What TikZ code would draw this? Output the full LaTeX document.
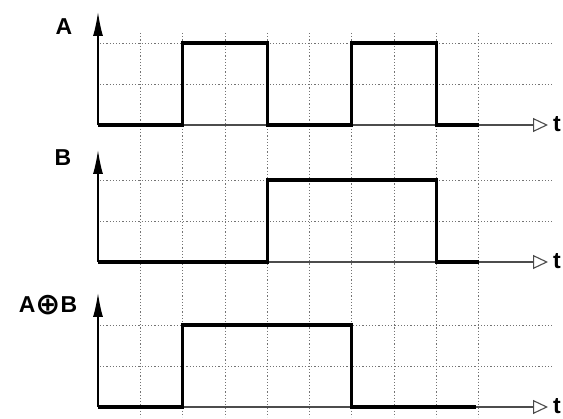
\documentclass[tikz,border=0pt]{standalone}
\usepackage{fontspec}
\setmainfont{Liberation Sans}
\newfontfamily\symfont{DejaVu Sans}
\usetikzlibrary{arrows.meta}
\tikzset{
  grd/.style={draw=black!55, dash pattern=on 1.2pt off 2pt, line width=0.8pt},
  axs/.style={draw=black, line width=1.5pt},
  yax/.style={axs, -{Latex[length=24pt,width=10pt]}},
  tax/.style={draw=black!70, line width=1.1pt, -{Triangle[open,length=15pt,width=14pt]}},
  sig/.style={draw=black, line width=3.2pt, line join=miter},
  lbl/.style={font=\fontsize{23}{26}\selectfont\bfseries, inner sep=0pt},
}

\begin{document}
\begin{tikzpicture}[x=1pt, y=-1pt]
\useasboundingbox (0,0) rectangle (563,419);

% ---- grid ----
\foreach \i in {1,...,9}
  \draw[grd] ({98+42.3*\i},33) -- ({98+42.3*\i},417);
\foreach \base in {125,262,407} {
  \draw[grd] (100,{\base-82}) -- (553,{\base-82});
  \draw[grd] (100,{\base-41}) -- (553,{\base-41});
}

% ---- A ----
\coordinate (oa) at (98,125);
\draw[tax] (oa) -- ++(450,0);
\draw[yax] (oa) -- ++(0,-113);
\draw[sig] (oa) -- (182.6,125) -- (182.6,43) -- (267.2,43) -- (267.2,125)
  -- (351.8,125) -- (351.8,43) -- (436.4,43) -- (436.4,125) -- (479,125);
\node[lbl] (la) at (64,27) {A};
\node[lbl, anchor=west] (ta) at (553,124) {t};

% ---- B ----
\coordinate (ob) at (98,262);
\draw[tax] (ob) -- ++(450,0);
\draw[yax] (ob) -- ++(0,-112);
\draw[sig] (ob) -- (267.2,262) -- (267.2,180) -- (436.4,180) -- (436.4,262) -- (479,262);
\node[lbl] (lb) at (63,158) {B};
\node[lbl, anchor=west] (tb) at (553,261) {t};

% ---- A xor B ----
\coordinate (oc) at (98,407);
\draw[tax] (oc) -- ++(450,0);
\draw[yax] (oc) -- ++(0,-114);
\draw[sig] (oc) -- (182.6,407) -- (182.6,325) -- (351.8,325) -- (351.8,407) -- (476,407);
\node[lbl] (lc) at (48,305) {A\raisebox{-2pt}{\scalebox{1.3}{\symfont ⊕}}B};
\node[lbl, anchor=west] (tc) at (553,406) {t};

\end{tikzpicture}
\end{document}
